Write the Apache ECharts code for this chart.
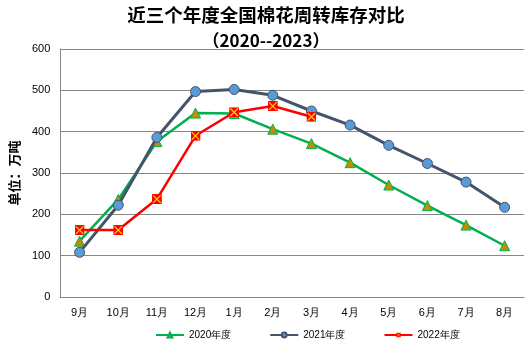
<!DOCTYPE html>
<html><head><meta charset="utf-8">
<script src="https://cdn.jsdelivr.net/npm/echarts@6/dist/echarts.min.js"></script>
<style>html,body{margin:0;padding:0;background:#fff}#c{width:532px;height:348px}</style>
</head><body><div id="c"></div>
<script>
const categories = ['9月','10月','11月','12月','1月','2月','3月','4月','5月','6月','7月','8月'];
const yTicks = [0,100,200,300,400,500,600];
const s2020 = [135,236,376,445,444,406,371,325,271,221,174,124];
const s2021 = [108,222,386,497,502,488,450,416,367,323,278,217];
const s2022 = [162,162,237,390,447,462,436];
const names = ['2020年度','2021年度','2022年度'];

const xSvg = "<svg xmlns='http://www.w3.org/2000/svg' width='12' height='12'><rect x='0' y='0' width='12' height='12' fill='#FF0000'/><path d='M1.5,1.5L10.5,10.5M10.5,1.5L1.5,10.5' stroke='#FFD700' stroke-width='1.4'/></svg>";
const xSym = 'image://data:image/svg+xml;charset=utf-8,' + encodeURIComponent(xSvg);

const chart = echarts.init(document.getElementById('c'), null, {renderer:'canvas'});
const font = "'Liberation Sans', Arial, sans-serif";
chart.setOption({
  animation:false,
  backgroundColor:'#fff',
  title:[
    {text:'近三个年度全国棉花周转库存对比', left:'center', top:1,
     textStyle:{fontSize:18.5, fontWeight:'bold', color:'#000', fontFamily:"'Noto Sans CJK SC', sans-serif"}},
    {text:'（2020--2023）', left:'center', top:27,
     textStyle:{fontSize:17, fontWeight:'bold', color:'#000', fontFamily:"'Noto Sans CJK SC', sans-serif"}}
  ],
  grid:{left:58, right:8, top:49, bottom:51, containLabel:false},
  legend:{
    bottom:3, left:150, itemWidth:28, itemHeight:6, itemGap:38,
    textStyle:{fontSize:10, color:'#000', fontFamily:font},
    data:names
  },
  xAxis:{
    type:'category', data:categories, boundaryGap:true,
    axisLine:{lineStyle:{color:'#868686'}},
    axisTick:{show:false},
    axisLabel:{color:'#000', fontSize:11, margin:10, fontFamily:font}
  },
  yAxis:{
    type:'value', min:yTicks[0], max:yTicks[yTicks.length-1], interval:100,
    name:'单位：万吨', nameLocation:'middle', nameGap:38, nameRotate:90,
    nameTextStyle:{fontSize:13, fontWeight:'bold', color:'#000', fontFamily:"'Noto Sans CJK SC', sans-serif"},
    axisLine:{show:true, lineStyle:{color:'#868686'}},
    axisTick:{show:false},
    splitLine:{lineStyle:{color:'#868686', width:1}},
    axisLabel:{color:'#000', fontSize:11, margin:10, fontFamily:font}
  },
  series:[
    {name:names[0], type:'line', data:s2020, symbol:'triangle', symbolSize:10,
     lineStyle:{color:'#00B050', width:2.5}, itemStyle:{color:'#BF8F00', borderColor:'#00B050', borderWidth:1},
     z:2},
    {name:names[1], type:'line', data:s2021, symbol:'circle', symbolSize:10,
     lineStyle:{color:'#44546A', width:3}, itemStyle:{color:'#5B9BD5', borderColor:'#44546A', borderWidth:1},
     z:3},
    {name:names[2], type:'line', data:s2022, symbol:xSym, symbolSize:10,
     lineStyle:{color:'#FF0000', width:2.5}, itemStyle:{color:'#FF0000'},
     z:4}
  ]
});
</script></body></html>
